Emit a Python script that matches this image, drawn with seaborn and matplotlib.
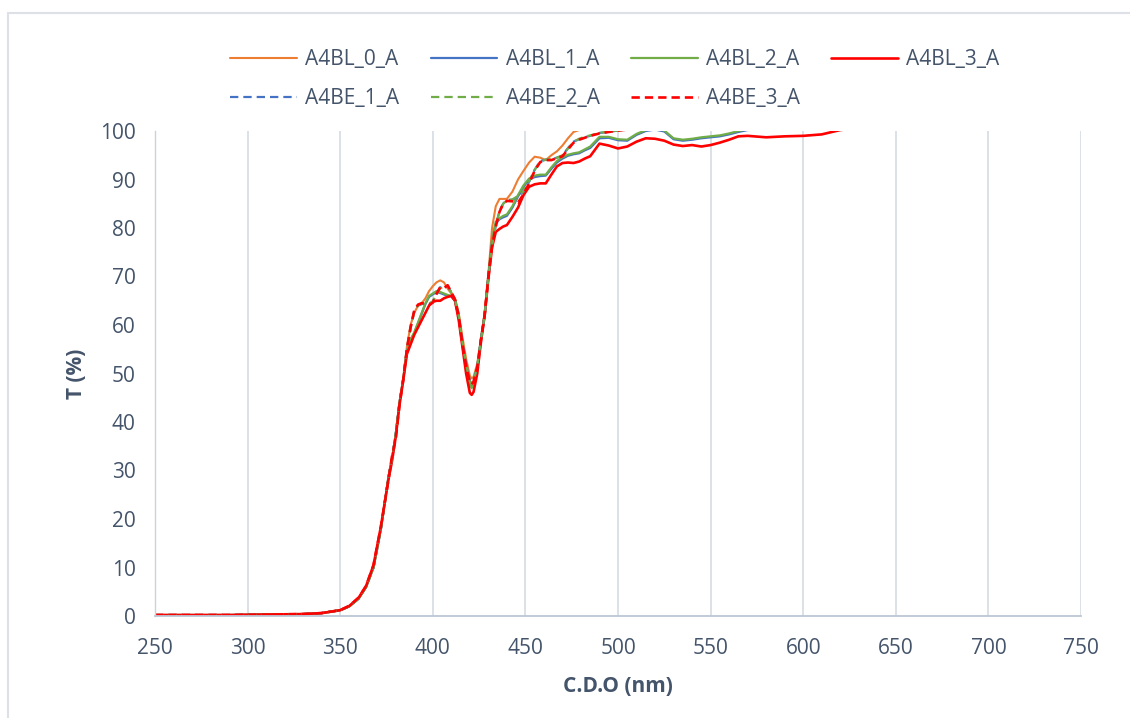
import numpy as np
import pandas as pd
import matplotlib
matplotlib.use("Agg")
import matplotlib.pyplot as plt
import seaborn as sns
from matplotlib.patches import Rectangle

# ---------------- data ----------------
wl = [250, 270, 290, 310, 330, 340, 350, 355, 360, 364, 368, 372, 376, 378, 380, 382, 384,
      386, 388, 390, 392, 394, 396, 398, 400, 402, 404, 406, 408, 410, 412, 414, 416, 418, 420,
      421,
      422, 424, 426, 428, 430, 432, 434, 436, 438, 440,
      443, 446, 449, 452, 455, 458, 461, 464, 467, 470, 473, 476, 479, 482, 485,
      490, 495, 500, 505, 510, 515, 520, 525, 530, 535, 540, 545, 550, 555, 560, 565, 570,
      580, 590, 600, 610, 620, 640]

A4BL_0_A = [0.2, 0.2, 0.2, 0.3, 0.4, 0.6, 1.2, 2.0, 3.6, 6.0, 10.0, 18.0, 28.5, 32.5, 37.5, 44.0, 48.8,
            55.5, 60.0, 62.5, 64.0, 64.5, 65.5, 67.0, 68.0, 68.8, 69.2, 68.8, 67.5, 66.5, 65.5, 62.5, 57.5, 53.0, 49.5,
            49.0,
            49.3, 52.0, 57.0, 62.5, 70.5, 80.0, 84.5, 86.0, 86.0, 86.0,
            87.5, 90.0, 91.8, 93.5, 94.7, 94.5, 94.0, 95.0, 95.8, 97.0, 98.5, 99.8, 100.2, 100.3, 100.2,
            100.3, 100.5, 100.6, 100.8, 101.0, 101.2, 101.3, 101.3, 101.2, 101.2, 101.3, 101.4, 101.5, 101.6, 101.7, 101.8, 101.9,
            102.0, 102.0, 102.1, 102.2, 102.3, 102.5]

A4BL_1_A = [0.2, 0.2, 0.2, 0.3, 0.4, 0.6, 1.2, 2.0, 3.6, 6.0, 10.0, 18.0, 28.5, 32.5, 37.5, 44.0, 48.7,
            54.5, 57.0, 58.3, 60.3, 62.3, 64.3, 65.8, 66.3, 66.8, 66.6, 66.3, 66.0, 65.9, 65.0, 61.7, 56.3, 51.8, 48.0,
            47.5,
            48.2, 51.2, 57.0, 62.0, 70.0, 77.3, 81.0, 81.8, 82.2, 82.5,
            84.2, 86.5, 88.5, 90.0, 90.5, 90.7, 90.8, 92.2, 93.5, 94.3, 94.9, 95.2, 95.4, 96.0, 96.5,
            98.5, 98.6, 98.1, 98.0, 99.2, 100.0, 100.3, 99.9, 98.3, 98.0, 98.2, 98.5, 98.7, 98.9, 99.3, 99.8, 100.2,
            100.4, 100.6, 100.8, 100.9, 101.0, 101.1]

A4BL_2_A = [0.2, 0.2, 0.2, 0.3, 0.4, 0.6, 1.2, 2.0, 3.6, 6.0, 10.0, 18.0, 28.5, 32.5, 37.5, 44.0, 48.7,
            54.5, 57.0, 58.5, 60.5, 62.5, 64.5, 66.0, 66.5, 67.0, 66.8, 66.5, 66.2, 66.0, 65.0, 61.5, 56.0, 51.5, 47.5,
            47.0,
            47.8, 51.0, 57.0, 62.0, 70.0, 77.5, 81.3, 82.0, 82.5, 82.8,
            84.5, 86.8, 88.8, 90.2, 90.8, 91.0, 91.0, 92.5, 93.8, 94.6, 95.1, 95.4, 95.6, 96.2, 96.8,
            98.8, 98.8, 98.3, 98.2, 99.4, 100.2, 100.5, 100.1, 98.5, 98.2, 98.4, 98.7, 98.9, 99.1, 99.5, 100.0, 100.4,
            100.6, 100.8, 101.0, 101.1, 101.2, 101.3]

A4BL_3_A = [0.2, 0.2, 0.2, 0.3, 0.4, 0.6, 1.2, 2.1, 3.8, 6.2, 10.5, 18.5, 28.0, 32.0, 37.0, 43.5, 48.5,
            54.0, 56.0, 58.0, 59.5, 61.0, 62.5, 64.0, 64.8, 65.0, 65.0, 65.5, 65.8, 66.0, 65.0, 61.0, 55.5, 50.0, 46.0,
            45.6,
            46.2, 50.0, 56.5, 62.0, 69.5, 76.0, 79.2, 79.8, 80.3, 80.6,
            82.3, 84.2, 86.8, 88.5, 89.0, 89.2, 89.2, 91.0, 92.7, 93.4, 93.5, 93.4, 93.7, 94.3, 94.8,
            97.4, 97.0, 96.4, 96.8, 97.8, 98.5, 98.4, 98.0, 97.2, 96.9, 97.1, 96.8, 97.1, 97.6, 98.2, 98.9, 99.0,
            98.7, 98.9, 99.0, 99.3, 100.2, 101.0]

A4BE_1_A = [0.2, 0.2, 0.2, 0.3, 0.4, 0.6, 1.2, 2.0, 3.6, 6.0, 10.0, 18.0, 28.5, 32.5, 37.5, 44.0, 48.8,
            55.0, 59.5, 63.0, 64.0, 64.3, 64.5, 64.3, 64.8, 66.5, 67.8, 67.8, 68.0, 66.8, 65.2, 62.0, 56.5, 52.0, 48.5,
            48.0,
            48.5, 51.5, 57.0, 62.0, 70.0, 76.5, 80.5, 83.5, 85.0, 85.8,
            85.8, 86.5, 87.5, 89.5, 92.0, 93.8, 94.1, 94.1, 94.5, 94.9, 96.5, 97.8, 98.3, 98.7, 99.0,
            99.6, 99.8, 100.1, 100.3, 100.6, 100.8, 101.0, 101.0, 100.9, 100.9, 101.0, 101.1, 101.2, 101.3, 101.4, 101.5, 101.6,
            101.7, 101.8, 101.9, 102.0, 102.1, 102.2]

A4BE_2_A = [0.2, 0.2, 0.2, 0.3, 0.4, 0.6, 1.2, 2.0, 3.6, 6.0, 10.0, 18.0, 28.5, 32.5, 37.5, 44.0, 48.8,
            55.0, 59.3, 62.8, 64.0, 64.4, 64.5, 64.4, 64.9, 66.3, 67.6, 67.8, 67.8, 66.7, 65.2, 62.0, 56.4, 51.8, 48.3,
            47.8,
            48.4, 51.5, 57.0, 62.0, 70.0, 76.6, 80.6, 83.4, 85.0, 85.7,
            85.9, 86.6, 87.6, 89.6, 92.0, 93.7, 94.1, 94.2, 94.5, 95.0, 96.4, 97.8, 98.4, 98.8, 99.1,
            99.6, 99.9, 100.1, 100.3, 100.6, 100.8, 101.0, 101.0, 100.9, 100.9, 101.0, 101.1, 101.2, 101.3, 101.4, 101.5, 101.6,
            101.7, 101.8, 101.9, 102.0, 102.1, 102.2]

A4BE_3_A = [0.2, 0.2, 0.2, 0.3, 0.4, 0.6, 1.2, 2.1, 3.8, 6.2, 10.5, 18.5, 28.0, 33.0, 36.5, 43.5, 48.6,
            55.0, 59.5, 63.0, 64.2, 64.5, 64.4, 64.2, 64.6, 66.4, 67.8, 67.6, 68.2, 66.8, 65.2, 61.8, 56.0, 51.5, 48.2,
            47.8,
            48.3, 51.3, 57.0, 62.0, 70.0, 76.3, 80.3, 83.3, 85.0, 85.6,
            85.5, 85.2, 87.0, 89.2, 91.8, 93.6, 94.0, 94.0, 94.4, 94.8, 96.2, 97.6, 98.2, 98.6, 99.0,
            99.5, 99.8, 100.1, 100.3, 100.6, 100.8, 101.0, 101.0, 100.9, 100.9, 101.0, 101.1, 101.2, 101.3, 101.4, 101.5, 101.6,
            101.7, 101.8, 101.9, 102.0, 102.1, 102.2]

series_names = ["A4BL_0_A", "A4BL_1_A", "A4BL_2_A", "A4BL_3_A", "A4BE_1_A", "A4BE_2_A", "A4BE_3_A"]
series_vals = [A4BL_0_A, A4BL_1_A, A4BL_2_A, A4BL_3_A, A4BE_1_A, A4BE_2_A, A4BE_3_A]
x_ticks = [250, 300, 350, 400, 450, 500, 550, 600, 650, 700, 750]
y_ticks = [0, 10, 20, 30, 40, 50, 60, 70, 80, 90, 100]

# ---------------- style ----------------
colors = {"A4BL_0_A": "#ED7D31", "A4BL_1_A": "#4472C4", "A4BL_2_A": "#70AD47", "A4BL_3_A": "#FF0000",
          "A4BE_1_A": "#4472C4", "A4BE_2_A": "#70AD47", "A4BE_3_A": "#FF0000"}
widths = {"A4BL_0_A": 1.5, "A4BL_1_A": 1.6, "A4BL_2_A": 1.6, "A4BL_3_A": 1.9,
          "A4BE_1_A": 1.6, "A4BE_2_A": 1.6, "A4BE_3_A": 1.9}
dashed = {"A4BL_0_A": False, "A4BL_1_A": False, "A4BL_2_A": False, "A4BL_3_A": False,
          "A4BE_1_A": True, "A4BE_2_A": True, "A4BE_3_A": True}

sns.set_theme(style="white")
plt.rcParams["font.family"] = ["Open Sans", "DejaVu Sans"]
txt_color = "#44546A"

fig = plt.figure(figsize=(11.3, 7.18), dpi=100)
ax = fig.add_axes([155 / 1130, 1 - 616 / 718, (1081 - 155) / 1130, (616 - 131) / 718])

for name, vals in zip(series_names, series_vals):
    lw = widths[name]
    ls = (0, (6.0 / lw, 3.6 / lw)) if dashed[name] else "-"
    sns.lineplot(x=np.array(wl, float), y=np.array(vals, float), ax=ax, color=colors[name],
                 linewidth=lw, linestyle=ls, sort=False, errorbar=None,
                 label=name, legend=False)

ax.set_xlim(250, 750)
ax.set_ylim(0, 100)
ax.set_xticks(x_ticks)
ax.set_yticks(y_ticks)
ax.tick_params(axis="both", length=0, labelsize=15, colors=txt_color)
ax.tick_params(axis="x", pad=16)
ax.tick_params(axis="y", pad=14)
ax.grid(axis="x", color="#D9DEE6", linewidth=1.3)
ax.grid(axis="y", visible=False)
for s in ["top", "right"]:
    ax.spines[s].set_visible(False)
ax.spines["left"].set_color("#C9D3DF")
ax.spines["left"].set_linewidth(1.0)
ax.spines["bottom"].set_color("#BCC7D5")
ax.spines["bottom"].set_linewidth(1.3)
ax.set_xlabel("C.D.O (nm)", fontsize=15, fontweight="bold", color=txt_color, labelpad=12)
ax.set_ylabel("T (%)", fontsize=15, fontweight="bold", color=txt_color, labelpad=9)

# legend, row-wise order
lines = ax.get_lines()
by_name = {l.get_label(): l for l in lines}
order = ["A4BL_0_A", "A4BE_1_A", "A4BL_1_A", "A4BE_2_A", "A4BL_2_A", "A4BE_3_A", "A4BL_3_A"]
leg = fig.legend([by_name[n] for n in order], order, loc="center", ncol=4,
                 bbox_to_anchor=(615 / 1130, 1 - 79 / 718), frameon=False,
                 prop={"size": 15},
                 handlelength=3.2, handletextpad=0.4, columnspacing=1.5, labelspacing=0.85,
                 borderpad=0.0)
for t in leg.get_texts():
    t.set_color(txt_color)

# chart border
fig.patches.append(Rectangle((8 / 1130, -0.05), 1.1, 1 - 13 / 718 + 0.05, transform=fig.transFigure,
                             fill=False, edgecolor="#DDE1E7", linewidth=1.5, zorder=0))

fig.savefig("out.png", dpi=100, facecolor="white")
